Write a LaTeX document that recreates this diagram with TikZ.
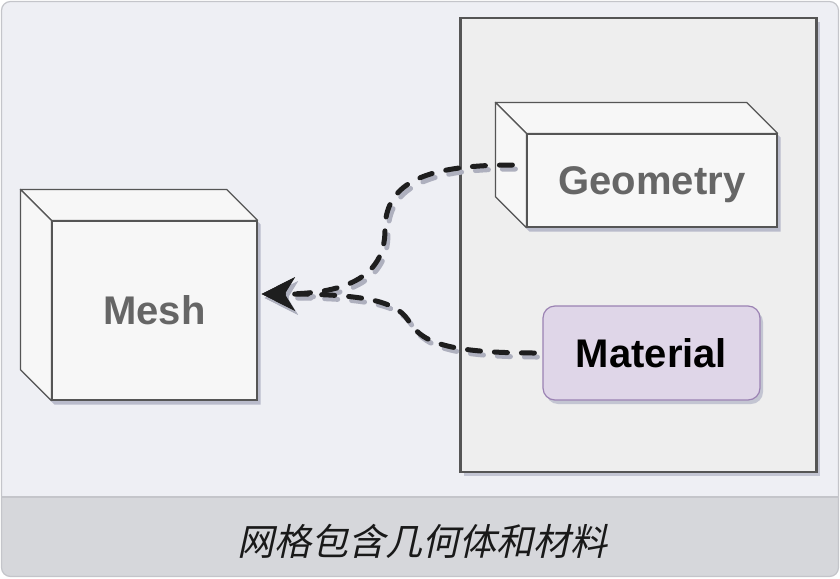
\documentclass[tikz,border=0pt]{standalone}
\usepackage{fontspec}
\setmainfont{Liberation Sans}
\newfontfamily\cjk[FakeSlant=0.22]{Noto Sans CJK SC}
\usetikzlibrary{arrows.meta,calc,shadows}
\definecolor{bgc}{HTML}{EEEFF4}
\definecolor{capc}{HTML}{D6D7DB}
\definecolor{framec}{HTML}{C4C5CA}
\definecolor{pkgfill}{HTML}{EEEEEE}
\definecolor{pkgdraw}{HTML}{555555}
\definecolor{facec}{HTML}{F7F7F7}
\definecolor{edgec}{HTML}{555555}
\definecolor{shadowc}{HTML}{B9BBCB}
\definecolor{matfill}{HTML}{DFD6E8}
\definecolor{matdraw}{HTML}{9B82B3}
\definecolor{txtgray}{HTML}{666666}
\definecolor{connc}{HTML}{1E1E1E}
\definecolor{connshadow}{HTML}{AEB0BE}
\pgfdeclarelayer{pkglayer}
\pgfdeclarelayer{shadowlayer}
\pgfsetlayers{pkglayer,shadowlayer,main}
\tikzset{
  container/.style={draw=pkgdraw, fill=pkgfill, line width=2.6pt,
    drop shadow={shadow xshift=3pt, shadow yshift=-4pt, fill=shadowc, opacity=0.8}},
  cubefront/.style={draw=edgec, fill=facec, line width=1.2pt, text=txtgray,
    font=\fontsize{40}{48}\selectfont\bfseries, text depth=0pt, inner sep=0pt},
  face/.style={draw=edgec, fill=facec, line width=1.2pt, line join=round},
  matbox/.style={draw=matdraw, fill=matfill, line width=1.2pt, rounded corners=12pt,
    text=black, font=\fontsize{40}{48}\selectfont\bfseries, text depth=0pt, inner sep=0pt,
    drop shadow={shadow xshift=3pt, shadow yshift=-4pt, fill=shadowc, opacity=0.8}},
  conn/.style={draw=connc, line width=5pt, line cap=round, dash pattern=on 13pt off 14pt,
    -{Stealth[length=33pt,width=33pt,inset=10pt]}},
  connsh/.style={draw=connshadow, line width=5pt, line cap=round, dash pattern=on 13pt off 14pt,
    -{Stealth[length=33pt,width=33pt,inset=10pt]},
    transform canvas={xshift=3pt,yshift=-4pt}},
  captext/.style={font=\cjk\fontsize{37}{44}\selectfont, text=black!90}
}
\newcommand\cubesides[1]{%
  \begin{pgfonlayer}{shadowlayer}
    \fill[shadowc, transform canvas={xshift=3pt,yshift=-4pt}]
      ($(#1.north west)+(-31,-31)$) -- ($(#1.north east)+(-31,-31)$) --
      (#1.north east) -- (#1.south east) -- (#1.south west) --
      ($(#1.south west)+(-31,-31)$) -- cycle;
  \end{pgfonlayer}
  \filldraw[face] (#1.north west) -- ($(#1.north west)+(-31,-31)$) --
    ($(#1.north east)+(-31,-31)$) -- (#1.north east) -- cycle;
  \filldraw[face] (#1.north west) -- ($(#1.north west)+(-31,-31)$) --
    ($(#1.south west)+(-31,-31)$) -- (#1.south west) -- cycle;
}
\begin{document}
\begin{tikzpicture}[x=1pt,y=-1pt]
\useasboundingbox (0,0) rectangle (840,578);
\begin{pgfonlayer}{pkglayer}
  \begin{scope}
    \clip[rounded corners=9pt] (1.5,1.5) rectangle (838.5,576.5);
    \fill[bgc] (0,0) rectangle (840,497);
    \fill[capc] (0,497) rectangle (840,578);
  \end{scope}
  \draw[framec, line width=1.5pt] (1.5,497) -- (838.5,497);
  \draw[framec, line width=1.2pt, rounded corners=9pt] (1.5,1.5) rectangle (838.5,576.5);
  \node[container, minimum width=356pt, minimum height=454pt] (pkg) at (638.5,245) {};
\end{pgfonlayer}
\node[captext] (cap) at (422,541) {网格包含几何体和材料};

\node[cubefront, minimum width=205pt, minimum height=179pt] (mesh) at (154.5,310.5) {Mesh};
\cubesides{mesh}
\node[cubefront, minimum width=250pt, minimum height=93pt] (geo) at (652,180.5) {Geometry};
\cubesides{geo}
\node[matbox, minimum width=217pt, minimum height=94pt] (mat) at (651.5,353) {Material};

\coordinate (tip) at ($(mesh.east)+(4,-16.5)$);
\coordinate (gs) at ($(geo.west)+(-14,-15.5)$);
\coordinate (ms) at ($(mat.west)+(-8,0)$);

\draw[connsh] (gs) .. controls (420,165) and (385,185) .. (385,230)
  .. controls (385,280) and (340,294) .. (tip);
\draw[connsh] (ms) .. controls (440,353) and (420,340) .. (408,320)
  .. controls (395,300) and (360,294) .. (tip);
\draw[conn] (gs) .. controls (420,165) and (385,185) .. (385,230)
  .. controls (385,280) and (340,294) .. (tip);
\draw[conn] (ms) .. controls (440,353) and (420,340) .. (408,320)
  .. controls (395,300) and (360,294) .. (tip);
\end{tikzpicture}
\end{document}
